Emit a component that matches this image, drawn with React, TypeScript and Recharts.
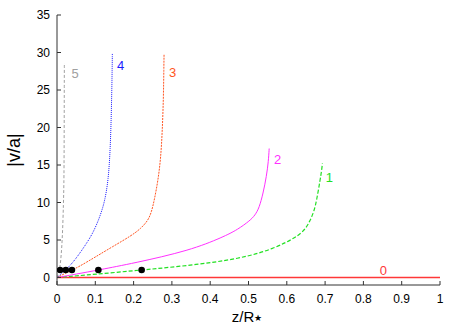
import { ComposedChart, Line, Scatter, XAxis, YAxis } from 'recharts';

const xTicks = [0, 0.1, 0.2, 0.3, 0.4, 0.5, 0.6, 0.7, 0.8, 0.9, 1];
const yTicks = [0, 5, 10, 15, 20, 25, 30, 35];

// curves, z/R* against |v/a|
const z0 = [0, 1];
const v0 = [0, 0];
const z1 = [0, 0.1, 0.221, 0.347, 0.478, 0.565, 0.626, 0.648, 0.661, 0.671, 0.678, 0.687, 0.691, 0.693];
const v1 = [0, 0.43, 1, 1.6, 2.5, 3.8, 5.4, 6.4, 7.6, 8.8, 10.3, 13, 14.3, 15.2];
const z2 = [0, 0.05, 0.108, 0.2, 0.347, 0.434, 0.472, 0.504, 0.517, 0.528, 0.538, 0.547, 0.552, 0.554];
const v2 = [0, 0.45, 1, 1.9, 3.6, 5.4, 6.4, 7.6, 8.3, 9.3, 11.2, 13.5, 15.5, 17.2];
const z3 = [0, 0.039, 0.056, 0.099, 0.143, 0.195, 0.218, 0.238, 0.247, 0.254, 0.264, 0.271, 0.275, 0.278, 0.279, 0.2795];
const v3 = [0, 1, 1.4, 2.7, 4.05, 5.6, 6.5, 7.6, 8.8, 10.3, 13, 16, 19.6, 24, 28, 29.7];
const z4 = [0, 0.023, 0.047, 0.082, 0.096, 0.108, 0.117, 0.125, 0.134, 0.139, 0.142, 0.144, 0.1445];
const v4 = [0, 1, 2.3, 4.9, 6.2, 7.6, 8.9, 10.3, 13, 17, 22, 27.5, 29.9];
const z5 = [0, 0.008, 0.014, 0.017, 0.0183, 0.0188, 0.019, 0.0192];
const v5 = [0, 1, 4.9, 10, 13, 20, 26, 28.6];

const dotZ = [0.008, 0.023, 0.039, 0.108, 0.221];
const dotV = [1, 1, 1, 1, 1];

const curveNames = ['0', '1', '2', '3', '4', '5'];
const labelZ = [0.852, 0.711, 0.576, 0.302, 0.166, 0.047];
const labelV = [1.0, 13.4, 15.8, 27.4, 28.3, 27.2];

const curveZ = [z0, z1, z2, z3, z4, z5];
const curveV = [v0, v1, v2, v3, v4, v5];

const colors = ['#ff3838', '#22e022', '#ff30ff', '#ff5522', '#1a1aff', '#a0a0a0'];
const dashes = [undefined, '4 2', undefined, '2 1', '1 1', '3 2'];
const widths = [1.5, 1.2, 1, 1, 1, 1];

const FONT = '"Liberation Sans", Arial, sans-serif';
const AX = '#333';

const series = curveZ.map((zs, i) => zs.map((x, j) => ({ x, y: curveV[i][j] })));
const dots = dotZ.map((x, i) => ({ x, y: dotV[i] }));
const labels = labelZ.map((x, i) => ({ x, y: labelV[i], name: curveNames[i], idx: i }));

const BottomTick = ({ x, y, payload }: any) => (
  <g>
    <line x1={x} x2={x} y1={y} y2={y - 4} stroke={AX} />
    <text x={x} y={y + 17.5} textAnchor="middle" fontSize={12} fontFamily={FONT} fill="#000">
      {String(payload.value)}
    </text>
  </g>
);

const TopTick = ({ x, y }: any) => <line x1={x} x2={x} y1={y} y2={y + 4} stroke={AX} />;

const LeftTick = ({ x, y, payload }: any) => (
  <g>
    <line x1={x} x2={x + 4} y1={y} y2={y} stroke={AX} />
    <text x={x - 7} y={y + 4.3} textAnchor="end" fontSize={12} fontFamily={FONT} fill="#000">
      {String(payload.value)}
    </text>
  </g>
);

const RightTick = ({ x, y }: any) => <line x1={x} x2={x - 4} y1={y} y2={y} stroke={AX} />;

const Dot = ({ cx, cy }: any) => <circle cx={cx} cy={cy} r={3.3} fill="#000" />;

const Label = ({ cx, cy, payload }: any) => (
  <text x={cx} y={cy} textAnchor="middle" dominantBaseline="central" fontSize={13}
    fontFamily={FONT} fill={colors[payload.idx]}>
    {payload.name}
  </text>
);

export default function App() {
  return (
    <div style={{ position: 'absolute', left: 0, top: 0, background: '#fff' }}>
      <ComposedChart width={463} height={324} margin={{ top: 15, right: 23, bottom: 0, left: 0 }}>
        <XAxis xAxisId={0} type="number" dataKey="x" domain={[0, 1]} ticks={xTicks}
          allowDataOverflow height={39} tickSize={0} tickMargin={0} tickLine={false}
          axisLine={{ stroke: AX }} tick={<BottomTick />} />
        <XAxis xAxisId="top" orientation="top" type="number" dataKey="x" domain={[0, 1]}
          ticks={xTicks} height={0} tickSize={0} tickMargin={0} tickLine={false}
          axisLine={{ stroke: AX }} tick={<TopTick />} />
        <YAxis yAxisId={0} type="number" domain={[-1, 35]} ticks={yTicks} allowDataOverflow
          width={57} tickSize={0} tickMargin={0} tickLine={false}
          axisLine={{ stroke: AX }} tick={<LeftTick />} />
        <YAxis yAxisId="right" orientation="right" type="number" domain={[-1, 35]}
          ticks={yTicks} width={0} tickSize={0} tickMargin={0} tickLine={false}
          axisLine={{ stroke: AX }} tick={<RightTick />} />
        {series.map((d, i) => (
          <Line key={i} data={d} dataKey="y" type={i === 0 ? 'linear' : 'basis'}
            stroke={colors[i]} strokeWidth={widths[i]} strokeDasharray={dashes[i]}
            dot={false} activeDot={false} isAnimationActive={false} />
        ))}
        <Scatter data={dots} dataKey="y" shape={<Dot />} isAnimationActive={false} />
        <Scatter data={labels} dataKey="y" shape={<Label />} isAnimationActive={false} />
      </ComposedChart>
      <svg width={463} height={324} style={{ position: 'absolute', left: 0, top: 0, pointerEvents: 'none' }}>
        <text x={13.5} y={150} transform="rotate(-90 13.5 150)" textAnchor="middle"
          dominantBaseline="central" fontSize={18} fontFamily={FONT} fill="#000">|v/a|</text>
        <text x={247} y={322} textAnchor="middle" fontSize={15} fontFamily={FONT} fill="#000">
          z/R<tspan fontSize={9} dy={-1}>★</tspan>
        </text>
      </svg>
    </div>
  );
}
